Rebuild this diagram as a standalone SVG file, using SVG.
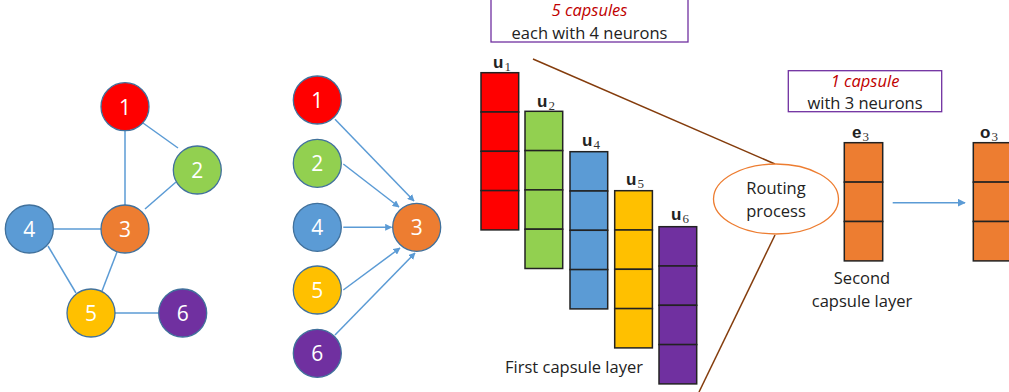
<svg xmlns="http://www.w3.org/2000/svg" width="1009" height="392" viewBox="0 0 1009 392">
<defs>
<marker id="ah" viewBox="0 0 10 10" refX="9" refY="5" markerWidth="7" markerHeight="7" orient="auto" markerUnits="userSpaceOnUse">
<path d="M0,0 L10,5 L0,10 z" fill="#5B9BD5"/>
</marker>
<marker id="ah2" viewBox="0 0 10 10" refX="9" refY="5" markerWidth="8" markerHeight="8" orient="auto" markerUnits="userSpaceOnUse">
<path d="M0,0 L10,5 L0,10 z" fill="#5B9BD5"/>
</marker>
</defs>
<style>
.nd{stroke:#41719C;stroke-width:1.3}
.num{font-family:"Open Sans","Liberation Sans",sans-serif;font-size:21px;fill:#fff;text-anchor:middle;dominant-baseline:central}
.edge{stroke:#5B9BD5;stroke-width:1.5;fill:none}
.cell{stroke:#222;stroke-width:1.5}
.lbl{font-family:"Open Sans","Liberation Sans",sans-serif;font-size:16.5px;fill:#222;text-anchor:middle}
.red{fill:#C00000;font-style:italic}
.vec{font-family:"Liberation Sans",sans-serif;font-weight:bold;font-size:17px;fill:#222}
.sub{font-family:"Liberation Serif",serif;font-weight:normal;font-size:13px;fill:#333}
.brown{stroke:#843C0C;stroke-width:1.5;fill:none}
.box{fill:#fff;stroke:#7030A0;stroke-width:1.3}
</style>

<g id="connectors">
<line class="edge" x1="125" y1="130.7" x2="125" y2="205"/>
<line class="edge" x1="143" y1="123" x2="178" y2="148"/>
<line class="edge" x1="176" y1="182" x2="145" y2="209"/>
<line class="edge" x1="53.3" y1="229" x2="101" y2="229"/>
<line class="edge" x1="48" y1="246" x2="76" y2="293"/>
<line class="edge" x1="117" y1="252" x2="102" y2="291"/>
<line class="edge" x1="115" y1="313" x2="158.7" y2="313"/>

<line class="edge" x1="335" y1="119.3" x2="414" y2="201" marker-end="url(#ah)"/>
<line class="edge" x1="343.3" y1="164" x2="399" y2="207" marker-end="url(#ah)"/>
<line class="edge" x1="343.3" y1="227.3" x2="391.5" y2="227.3" marker-end="url(#ah)"/>
<line class="edge" x1="343.3" y1="290" x2="400" y2="248" marker-end="url(#ah)"/>
<line class="edge" x1="335" y1="335" x2="415" y2="253" marker-end="url(#ah)"/>

<line class="brown" x1="533" y1="59" x2="775" y2="164"/>
<line class="brown" x1="775" y1="235" x2="699" y2="392"/>
<line class="edge" x1="892.7" y1="202.7" x2="965" y2="202.7" marker-end="url(#ah2)"/>
</g>

<g id="g1-n1"><circle class="nd" cx="125" cy="106.7" r="24" fill="#FF0000"/><text class="num" x="125" y="106.7">1</text></g>
<g id="g1-n2"><circle class="nd" cx="197.3" cy="170" r="24" fill="#92D050"/><text class="num" x="197.3" y="170">2</text></g>
<g id="g1-n3"><circle class="nd" cx="125" cy="229" r="24" fill="#ED7D31"/><text class="num" x="125" y="229">3</text></g>
<g id="g1-n4"><circle class="nd" cx="29.3" cy="229" r="24" fill="#5B9BD5"/><text class="num" x="29.3" y="229">4</text></g>
<g id="g1-n5"><circle class="nd" cx="91" cy="313" r="24" fill="#FFC000"/><text class="num" x="91" y="313">5</text></g>
<g id="g1-n6"><circle class="nd" cx="182.7" cy="313" r="24" fill="#7030A0"/><text class="num" x="182.7" y="313">6</text></g>

<g id="g2-n1"><circle class="nd" cx="317.3" cy="100" r="24" fill="#FF0000"/><text class="num" x="317.3" y="100">1</text></g>
<g id="g2-n2"><circle class="nd" cx="317.3" cy="163.3" r="24" fill="#92D050"/><text class="num" x="317.3" y="163.3">2</text></g>
<g id="g2-n4"><circle class="nd" cx="317.3" cy="227.3" r="24" fill="#5B9BD5"/><text class="num" x="317.3" y="227.3">4</text></g>
<g id="g2-n5"><circle class="nd" cx="317.3" cy="290" r="24" fill="#FFC000"/><text class="num" x="317.3" y="290">5</text></g>
<g id="g2-n6"><circle class="nd" cx="317.3" cy="353.3" r="24" fill="#7030A0"/><text class="num" x="317.3" y="353.3">6</text></g>
<g id="g2-n3"><circle class="nd" cx="416.7" cy="227.3" r="24" fill="#ED7D31"/><text class="num" x="416.7" y="227.3">3</text></g>

<g id="box-first">
<rect class="box" x="491" y="-2" width="197" height="44"/>
<text class="lbl red" x="589.5" y="16">5 capsules</text>
<text class="lbl" x="589.5" y="39">each with 4 neurons</text>
</g>

<g id="u1">
<rect class="cell" x="481" y="72.7" width="37.7" height="39.3" fill="#FF0000"/>
<rect class="cell" x="481" y="112" width="37.7" height="39.3" fill="#FF0000"/>
<rect class="cell" x="481" y="151.3" width="37.7" height="39.3" fill="#FF0000"/>
<rect class="cell" x="481" y="190.6" width="37.7" height="39.3" fill="#FF0000"/>
<text class="vec" x="493" y="68">u<tspan class="sub" dx="1" dy="3">1</tspan></text>
</g>
<g id="u2">
<rect class="cell" x="525" y="111.3" width="37.7" height="39.3" fill="#92D050"/>
<rect class="cell" x="525" y="150.6" width="37.7" height="39.3" fill="#92D050"/>
<rect class="cell" x="525" y="189.9" width="37.7" height="39.3" fill="#92D050"/>
<rect class="cell" x="525" y="229.2" width="37.7" height="39.3" fill="#92D050"/>
<text class="vec" x="537" y="107">u<tspan class="sub" dx="1" dy="3">2</tspan></text>
</g>
<g id="u4">
<rect class="cell" x="570" y="151.7" width="37.7" height="39.3" fill="#5B9BD5"/>
<rect class="cell" x="570" y="191" width="37.7" height="39.3" fill="#5B9BD5"/>
<rect class="cell" x="570" y="230.3" width="37.7" height="39.3" fill="#5B9BD5"/>
<rect class="cell" x="570" y="269.6" width="37.7" height="39.3" fill="#5B9BD5"/>
<text class="vec" x="582" y="146">u<tspan class="sub" dx="1" dy="3">4</tspan></text>
</g>
<g id="u5">
<rect class="cell" x="614.7" y="190.7" width="37.7" height="39.3" fill="#FFC000"/>
<rect class="cell" x="614.7" y="230" width="37.7" height="39.3" fill="#FFC000"/>
<rect class="cell" x="614.7" y="269.3" width="37.7" height="39.3" fill="#FFC000"/>
<rect class="cell" x="614.7" y="308.6" width="37.7" height="39.3" fill="#FFC000"/>
<text class="vec" x="626" y="185">u<tspan class="sub" dx="1" dy="3">5</tspan></text>
</g>
<g id="u6">
<rect class="cell" x="659" y="226.7" width="37.7" height="39.3" fill="#7030A0"/>
<rect class="cell" x="659" y="266" width="37.7" height="39.3" fill="#7030A0"/>
<rect class="cell" x="659" y="305.3" width="37.7" height="39.3" fill="#7030A0"/>
<rect class="cell" x="659" y="344.6" width="37.7" height="39.3" fill="#7030A0"/>
<text class="vec" x="671" y="220">u<tspan class="sub" dx="1" dy="3">6</tspan></text>
</g>
<text class="lbl" x="574" y="373">First capsule  layer</text>

<g id="routing">
<ellipse cx="776" cy="199" rx="62.5" ry="35" fill="#fff" stroke="#ED7D31" stroke-width="1.3"/>
<text class="lbl" x="776" y="194">Routing</text>
<text class="lbl" x="776" y="217">process</text>
</g>

<g id="box-second">
<rect class="box" x="788.3" y="70.7" width="153.4" height="41"/>
<text class="lbl red" x="865" y="87">1 capsule</text>
<text class="lbl" x="865" y="109">with 3 neurons</text>
</g>

<g id="e3">
<rect class="cell" x="844.3" y="142.7" width="38.4" height="39.4" fill="#ED7D31"/>
<rect class="cell" x="844.3" y="182.1" width="38.4" height="39.4" fill="#ED7D31"/>
<rect class="cell" x="844.3" y="221.5" width="38.4" height="39.4" fill="#ED7D31"/>
<text class="vec" x="852" y="138">e<tspan class="sub" dx="1" dy="3">3</tspan></text>
<text class="lbl" x="862" y="284">Second</text>
<text class="lbl" x="862" y="307">capsule layer</text>
</g>

<g id="o3">
<rect class="cell" x="973.3" y="142.7" width="38.4" height="39.4" fill="#ED7D31"/>
<rect class="cell" x="973.3" y="182.1" width="38.4" height="39.4" fill="#ED7D31"/>
<rect class="cell" x="973.3" y="221.5" width="38.4" height="39.4" fill="#ED7D31"/>
<text class="vec" x="980" y="138">o<tspan class="sub" dx="1" dy="3">3</tspan></text>
</g>
</svg>
